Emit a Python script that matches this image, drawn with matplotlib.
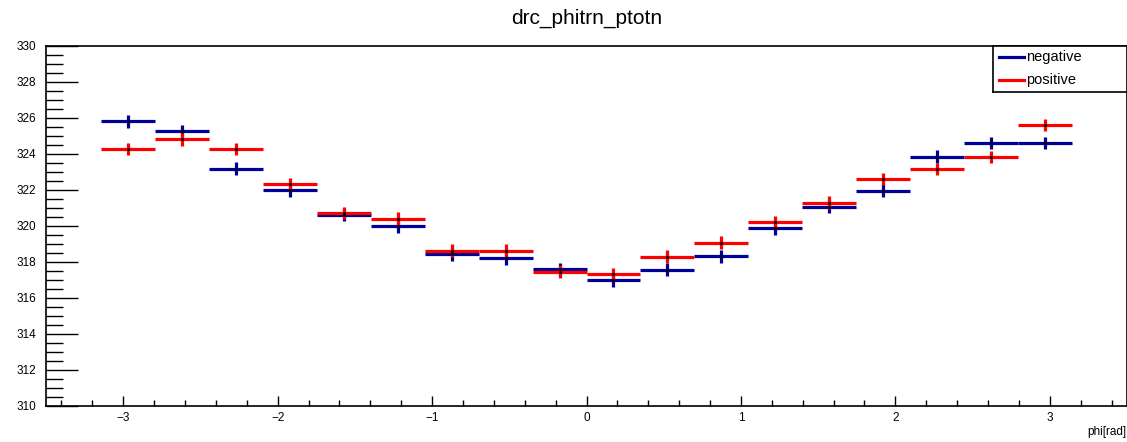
import numpy as np
import matplotlib.pyplot as plt
from matplotlib.ticker import MultipleLocator

plt.rcParams['font.family'] = ['Liberation Sans', 'DejaVu Sans']

# histogramas: 18 bins entre -pi y pi
n_bins = 18
phi_min, phi_max = -np.pi, np.pi

negative = [325.83, 325.28, 323.18, 321.98, 320.61, 319.98, 318.44, 318.20, 317.60,
            316.98, 317.56, 318.31, 319.87, 321.07, 321.96, 323.85, 324.61, 324.61]
negative_err = [0.36, 0.35, 0.35, 0.35, 0.35, 0.36, 0.36, 0.36, 0.36,
                0.36, 0.36, 0.36, 0.35, 0.35, 0.36, 0.35, 0.34, 0.32]

positive = [324.28, 324.83, 324.28, 322.31, 320.74, 320.41, 318.63, 318.63, 317.46,
            317.35, 318.30, 319.08, 320.20, 321.30, 322.61, 323.17, 323.85, 325.61]
positive_err = [0.34, 0.36, 0.35, 0.35, 0.34, 0.35, 0.35, 0.35, 0.36,
                0.34, 0.35, 0.35, 0.35, 0.35, 0.35, 0.35, 0.34, 0.33]

edges = np.linspace(phi_min, phi_max, n_bins + 1)
centers = 0.5 * (edges[:-1] + edges[1:])
half = 0.5 * (edges[1:] - edges[:-1])

W, H = 1127, 442
fig = plt.figure(figsize=(W / 100, H / 100), dpi=100)
ax = fig.add_axes([46 / W, 1 - 406 / H, 1081 / W, 360 / H])

azul = '#000099'
rojo = '#ff0000'
for vals, errs, col, lab in [(negative, negative_err, azul, 'negative'),
                             (positive, positive_err, rojo, 'positive')]:
    ax.errorbar(centers, vals, xerr=half, yerr=errs, fmt='o', ms=1.2,
                mfc='black', mec='black', ecolor=col, elinewidth=2.3,
                capsize=0, label=lab)

ax.set_xlim(-3.5, 3.5)
ax.set_ylim(310, 330)

ax.xaxis.set_major_locator(MultipleLocator(1))
ax.xaxis.set_minor_locator(MultipleLocator(0.2))
ax.yaxis.set_major_locator(MultipleLocator(2))
ax.yaxis.set_minor_locator(MultipleLocator(0.5))

ax.tick_params(axis='both', which='both', direction='in', width=1.0,
               labelsize=8.5, colors='black')
ax.tick_params(axis='x', which='major', length=7.5, pad=4)
ax.tick_params(axis='x', which='minor', length=4)
ax.tick_params(axis='y', which='major', length=23, pad=7)
ax.tick_params(axis='y', which='minor', length=12)
ax.tick_params(top=False, right=False)
for s in ax.spines.values():
    s.set_linewidth(1.2)

fig.text(587 / W, 1 - 18 / H, 'drc_phitrn_ptotn', ha='center', va='center',
         fontsize=15)
fig.text(1126 / W, 1 - 432 / H, 'phi[rad]', ha='right', va='center',
         fontsize=8.5)

# leyenda estilo ROOT
lax = fig.add_axes([993 / W, 1 - 92 / H, 134 / W, 46 / H])
lax.set_xlim(0, 134)
lax.set_ylim(46, 0)
lax.set_xticks([])
lax.set_yticks([])
for s in lax.spines.values():
    s.set_linewidth(1.2)
lax.plot([6, 31], [11, 11], color=azul, lw=2.3)
lax.plot([6, 31], [34, 34], color=rojo, lw=2.3)
lax.text(33, 11, 'negative', va='center', ha='left', fontsize=10.5)
lax.text(33, 34, 'positive', va='center', ha='left', fontsize=10.5)

fig.savefig('out.png', dpi=100)
